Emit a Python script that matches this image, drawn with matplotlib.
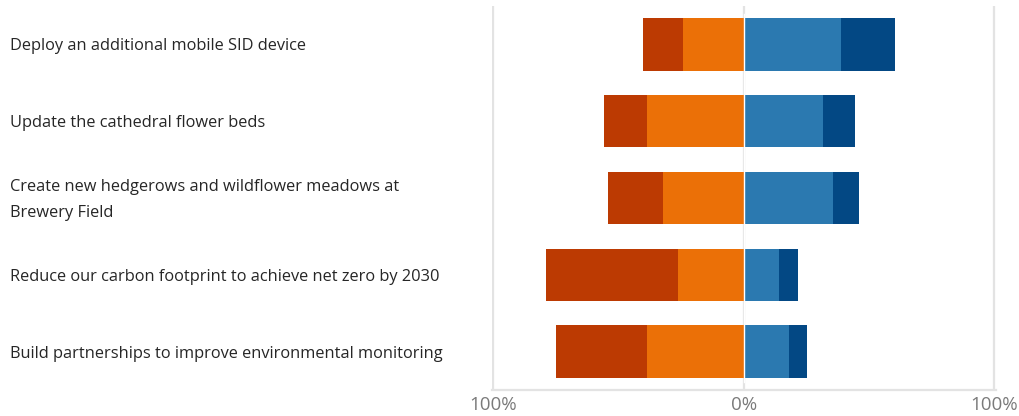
import numpy as np
import matplotlib.pyplot as plt
from matplotlib.transforms import blended_transform_factory, offset_copy

# Survey items, top to bottom
items = [
    "Deploy an additional mobile SID device",
    "Update the cathedral flower beds",
    "Create new hedgerows and wildflower meadows at\nBrewery Field",
    "Reduce our carbon footprint to achieve net zero by 2030",
    "Build partnerships to improve environmental monitoring",
]

# percentages per response group
strong_neg = [16.0, 17.1, 22.2, 52.9, 36.1]
neg = [24.0, 38.7, 32.0, 26.0, 38.7]
pos = [38.7, 31.6, 35.5, 14.1, 18.0]
strong_pos = [21.9, 13.0, 10.7, 7.5, 7.1]

tick_vals = [-100, 0, 100]
tick_labels = ["100%", "0%", "100%"]

c_strong_neg = "#bc3a02"
c_neg = "#eb7007"
c_pos = "#2b79b0"
c_strong_pos = "#034884"

plt.rcParams['font.family'] = ['Open Sans', 'DejaVu Sans']

fig = plt.figure(figsize=(10.2, 4.16), dpi=100)
ax = fig.add_axes([0.482, 0.0625, 0.494, 0.923])

y = np.arange(len(items))
h = 0.68
sn = np.array(strong_neg)
n = np.array(neg)
p = np.array(pos)
sp = np.array(strong_pos)

ax.barh(y, -n, height=h, color=c_neg, zorder=2)
ax.barh(y, -sn, left=-n, height=h, color=c_strong_neg, zorder=2)
ax.barh(y, p, height=h, color=c_pos, zorder=2)
ax.barh(y, sp, left=p, height=h, color=c_strong_pos, zorder=2)

# gridlines
for v in tick_vals:
    ax.axvline(v, color="#e3e3e3", lw=1.6, zorder=1)
ax.axvline(0, color="white", lw=1.0, ymin=0.02, ymax=0.98, zorder=3)

ax.set_xlim(-100.5, 100.5)
ax.set_ylim(len(items) - 0.5, -0.5)
ax.set_xticks(tick_vals)
ax.set_xticklabels(tick_labels, fontsize=13.5, color="#7a7a7a")
ax.set_yticks([])
ax.tick_params(axis='x', length=0, pad=4)
for s in ["top", "left", "right"]:
    ax.spines[s].set_visible(False)
ax.spines["bottom"].set_color("#e3e3e3")
ax.spines["bottom"].set_linewidth(1.6)

tr = blended_transform_factory(fig.transFigure, ax.transData)
tr = offset_copy(tr, fig=fig, x=0, y=-2, units='dots')
for yy, lab in zip(y, items):
    ax.text(10 / 1020, yy, lab, transform=tr, ha="left", va="center",
            fontsize=11.8, color="#262626", linespacing=1.8)

fig.savefig("out.png", dpi=100)
